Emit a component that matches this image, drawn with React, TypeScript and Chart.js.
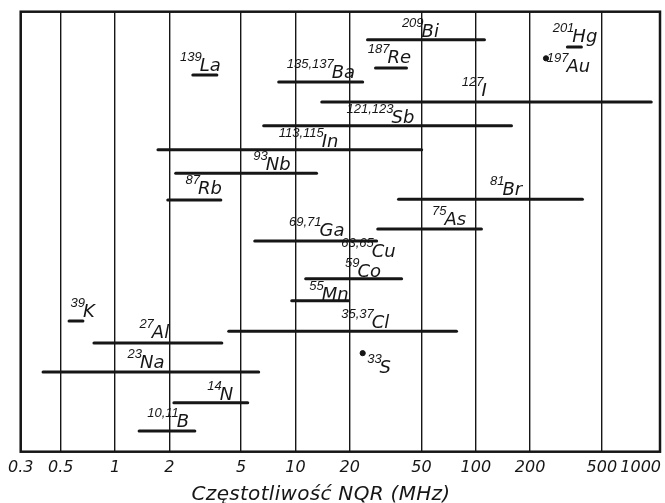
import { useEffect, useRef } from "react";
import { Chart, registerables } from "chart.js";

Chart.register(...registerables);

// ---- data ----
const xMin = 0.3;
const xMax = 1050;
const tickValues = [0.3, 0.5, 1, 2, 5, 10, 20, 50, 100, 200, 500, 1000];
const tickLabels = ["0.3", "0.5", "1", "2", "5", "10", "20", "50", "100", "200", "500", "1000"];
const axisTitle = "Częstotliwość NQR (MHz)";

// frequency ranges (MHz) of nuclei, with their row (0..100, bottom to top)
const rangeNuclei = ["Bi", "Hg", "La", "Re", "Ba", "I", "Sb", "In", "Nb", "Rb", "Br", "As", "Ga", "Co", "Mn", "Cl", "K", "Al", "Na", "N", "B"];
const rangeLow = [25.1, 322, 2.7, 27.8, 8.08, 14.0, 6.67, 1.73, 2.17, 1.96, 37.3, 28.6, 5.95, 11.4, 9.54, 4.27, 0.556, 0.764, 0.399, 2.12, 1.36];
const rangeHigh = [111.7, 385, 3.67, 41.3, 23.6, 939, 157.7, 50.1, 13.1, 3.86, 390, 107.5, 28.2, 38.8, 19.7, 78.2, 0.664, 3.91, 6.26, 5.44, 2.77];
const rangeRow = [93.6, 92.0, 85.6, 87.2, 84.0, 79.5, 74.1, 68.6, 63.3, 57.2, 57.4, 50.6, 47.9, 39.3, 34.3, 27.4, 29.7, 24.7, 18.1, 11.1, 4.7];

// single-frequency nuclei
const pointNuclei = ["Au", "S"];
const pointFreq = [245, 23.6];
const pointRow = [89.4, 22.4];

// labels: mass number + symbol, anchored at symbol's left edge (freq) and baseline (row)
const labelMass = ["209", "201", "197", "139", "187", "135,137", "127", "121,123", "113,115", "93", "87", "81", "75", "69,71", "63,65", "59", "55", "35,37", "33", "39", "27", "23", "14", "10,11"];
const labelSymbol = ["Bi", "Hg", "Au", "La", "Re", "Ba", "I", "Sb", "In", "Nb", "Rb", "Br", "As", "Ga", "Cu", "Co", "Mn", "Cl", "S", "K", "Al", "Na", "N", "B"];
const labelFreq = [50.05, 343, 318, 2.95, 32.4, 15.9, 107.5, 34.1, 14.0, 6.85, 2.88, 140.6, 67.1, 13.6, 26.5, 22.1, 14.0, 26.5, 29.3, 0.664, 1.6, 1.374, 3.81, 2.2];
const labelRow = [94.25, 93.1, 86.3, 86.5, 88.3, 84.9, 80.8, 74.7, 69.25, 64.0, 58.6, 58.3, 51.5, 49.0, 44.25, 39.7, 34.5, 28.1, 17.9, 30.6, 25.8, 19.0, 11.75, 5.6];

const INK = "#161616";

const decorPlugin = {
  id: "decor",
  afterDatasetsDraw(chart: any) {
    const { ctx, chartArea, scales } = chart;
    const xs = scales.x;
    const ys = scales.y;
    ctx.save();
    // frame
    ctx.strokeStyle = INK;
    ctx.lineWidth = 2.5;
    ctx.strokeRect(chartArea.left, chartArea.top, chartArea.right - chartArea.left, chartArea.bottom - chartArea.top);

    // nuclide labels
    ctx.fillStyle = INK;
    ctx.textBaseline = "alphabetic";
    for (let i = 0; i < labelSymbol.length; i++) {
      const sx = xs.getPixelForValue(labelFreq[i]);
      const sy = ys.getPixelForValue(labelRow[i]);
      ctx.font = 'italic 18px "DejaVu Sans"';
      ctx.textAlign = "left";
      ctx.fillText(labelSymbol[i], sx, sy);
      ctx.font = 'italic 13px "Liberation Sans"';
      ctx.textAlign = "right";
      ctx.fillText(labelMass[i], sx + 2, sy - 10);
    }

    // tick labels
    ctx.font = 'italic 16px "DejaVu Sans"';
    const ty = chartArea.bottom + 20;
    tickValues.forEach((v, i) => {
      const px = xs.getPixelForValue(v);
      if (i === tickValues.length - 1) {
        ctx.textAlign = "right";
        ctx.fillText(tickLabels[i], chartArea.right + 1, ty);
      } else {
        ctx.textAlign = "center";
        ctx.fillText(tickLabels[i], px, ty);
      }
    });

    // axis title
    ctx.font = 'italic 20px "DejaVu Sans"';
    (ctx as any).letterSpacing = "0.3px";
    ctx.textAlign = "center";
    ctx.fillText(axisTitle, 321, chartArea.bottom + 48);
    ctx.restore();
  },
};

export default function App() {
  const ref = useRef<HTMLCanvasElement | null>(null);
  useEffect(() => {
    document.body.style.margin = "0";
    const canvas = ref.current;
    if (!canvas) return;
    const datasets: any[] = rangeNuclei.map((n, i) => ({
      label: n,
      type: "line",
      data: [
        { x: rangeLow[i], y: rangeRow[i] },
        { x: rangeHigh[i], y: rangeRow[i] },
      ],
      borderColor: INK,
      borderWidth: 3,
      pointRadius: 0,
      borderCapStyle: "round",
      fill: false,
    }));
    datasets.push({
      label: "points",
      type: "scatter",
      data: pointNuclei.map((_, i) => ({ x: pointFreq[i], y: pointRow[i] })),
      backgroundColor: INK,
      borderColor: INK,
      pointRadius: 2.6,
    });
    const chart = new Chart(canvas, {
      type: "line",
      data: { datasets },
      options: {
        animation: false,
        responsive: false,
        devicePixelRatio: 1,
        layout: { padding: { left: 20.7, right: 4.3, top: 11.7, bottom: 51.3 } },
        plugins: { legend: { display: false }, tooltip: { enabled: false }, title: { display: false } },
        scales: {
          x: {
            type: "logarithmic",
            min: xMin,
            max: xMax,
            afterBuildTicks: (s: any) => {
              s.ticks = tickValues.map((v) => ({ value: v }));
            },
            ticks: { display: false },
            grid: {
              color: (c: any) => (c.tick && c.tick.value === 1000 ? "rgba(0,0,0,0)" : INK),
              lineWidth: 1.4,
              drawTicks: false,
            },
            border: { display: false },
          },
          y: { type: "linear", min: 0, max: 100, display: false },
        },
      },
      plugins: [decorPlugin],
    } as any);
    return () => chart.destroy();
  }, []);
  return (
    <div style={{ width: 665, height: 503, background: "#fff" }}>
      <canvas ref={ref} width={665} height={503} style={{ display: "block" }} />
    </div>
  );
}
